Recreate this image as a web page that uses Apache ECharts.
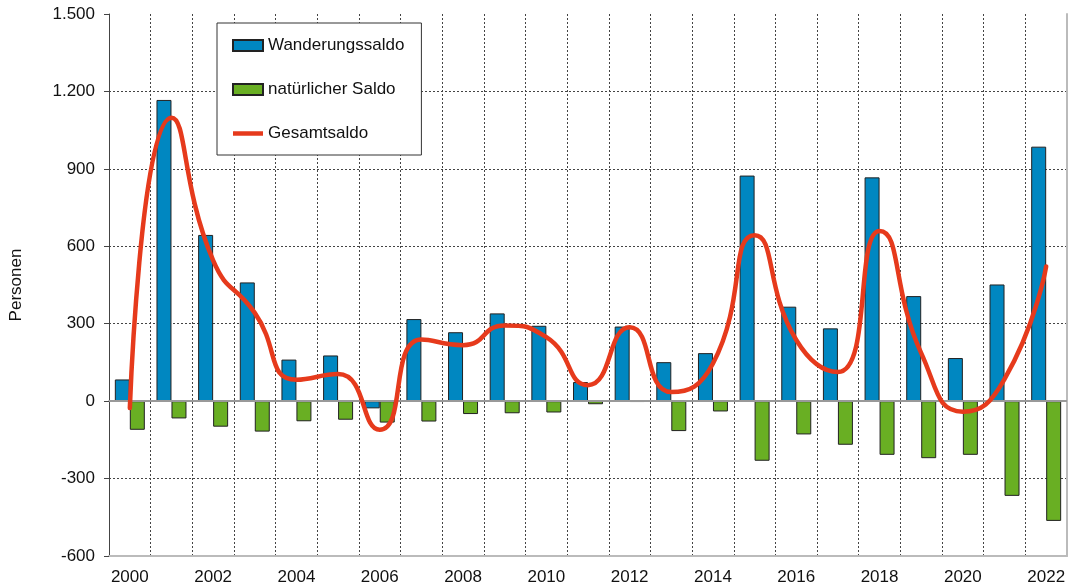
<!DOCTYPE html>
<html>
<head>
<meta charset="utf-8">
<script src="https://cdn.jsdelivr.net/npm/echarts@6/dist/echarts.min.js"></script>
<style>
    html, body { margin: 0; padding: 0; background: #fff; }
    #chart { width: 1075px; height: 588px; }
</style>
</head>
<body>
<div id="chart"></div>
<script>
    // Jahre und Werte
    let years = ['2000', '2001', '2002', '2003', '2004', '2005', '2006', '2007', '2008', '2009', '2010', '2011',
        '2012', '2013', '2014', '2015', '2016', '2017', '2018', '2019', '2020', '2021', '2022']
    let wanderungssaldo = [84, 1167, 644, 460, 161, 177, -28, 318, 267, 340, 292, 74,
        289, 151, 186, 874, 366, 282, 867, 407, 167, 452, 986]
    let natuerlicherSaldo = [-111, -67, -99, -118, -78, -72, -83, -79, -50, -47, -44, -12,
        -3, -116, -40, -231, -129, -169, -208, -221, -208, -367, -464]
    let gesamtsaldo = [-27, 1098, 545, 342, 83, 105, -111, 239, 217, 293, 248, 62,
        286, 35, 146, 643, 237, 113, 659, 186, -41, 85, 522]

    let font = 'Liberation Sans, Arial, sans-serif'

    function fmt(v) {
        return String(v).replace(/\B(?=(\d{3})+(?!\d))/g, '.')
    }

    let myChart = echarts.init(document.getElementById('chart'))
    myChart.setOption({
        animation: false,
        textStyle: {fontFamily: font},
        grid: {
            left: 108,
            right: 8,
            top: 14,
            bottom: 32
        },
        legend: {
            orient: 'vertical',
            left: 217,
            top: 23,
            itemWidth: 30,
            itemHeight: 11,
            itemGap: 27,
            padding: [14, 17, 13, 15],
            backgroundColor: '#fff',
            borderColor: '#333',
            borderWidth: 1,
            textStyle: {fontSize: 17, color: '#111', fontFamily: font},
            data: [
                {name: 'Wanderungssaldo', icon: 'rect'},
                {name: 'natürlicher Saldo', icon: 'rect'},
                {name: 'Gesamtsaldo', icon: 'path://M0,0L30,0L30,4.5L0,4.5Z'}
            ]
        },
        xAxis: [
            {
                type: 'category',
                data: years,
                boundaryGap: true,
                axisLine: {onZero: false, lineStyle: {color: '#bbb', width: 2}},
                axisTick: {show: false},
                axisLabel: {
                    interval: 1,
                    margin: 13,
                    fontSize: 17,
                    color: '#111',
                    fontFamily: font
                },
                splitLine: {
                    show: true,
                    interval: 0,
                    lineStyle: {color: '#444', type: [2, 2], width: 1}
                }
            },
            {
                type: 'category',
                position: 'top',
                data: years,
                axisLine: {lineStyle: {color: '#bbb', width: 2}},
                axisTick: {show: false},
                axisLabel: {show: false},
                splitLine: {show: false}
            }
        ],
        yAxis: [
            {
                type: 'value',
                min: -600,
                max: 1500,
                interval: 300,
                name: 'Personen',
                nameLocation: 'middle',
                nameGap: 84,
                nameTextStyle: {fontSize: 17, color: '#111', fontFamily: font},
                axisLine: {show: true, lineStyle: {color: '#444'}},
                axisTick: {show: true, length: 5, lineStyle: {color: '#444'}},
                axisLabel: {
                    margin: 14,
                    fontSize: 17,
                    color: '#111',
                    fontFamily: font,
                    formatter: fmt
                },
                splitLine: {
                    show: true,
                    lineStyle: {
                        color: ['rgba(0,0,0,0)', '#444', 'rgba(0,0,0,0)', '#444', '#444', '#444', '#444', 'rgba(0,0,0,0)'],
                        type: [2, 2],
                        width: 1
                    }
                }
            },
            {
                type: 'value',
                position: 'right',
                min: -600,
                max: 1500,
                interval: 300,
                axisLine: {show: true, lineStyle: {color: '#bbb', width: 2}},
                axisTick: {show: false},
                axisLabel: {show: false},
                splitLine: {show: false}
            }
        ],
        series: [
            {
                name: 'Wanderungssaldo',
                type: 'bar',
                data: wanderungssaldo,
                barGap: '0%',
                barCategoryGap: '28%',
                itemStyle: {color: '#0087C1', borderColor: '#222', borderWidth: 1},
                markLine: {
                    silent: true,
                    symbol: 'none',
                    label: {show: false},
                    lineStyle: {color: '#999', type: 'solid', width: 2},
                    data: [{yAxis: 0}]
                },
                z: 2
            },
            {
                name: 'natürlicher Saldo',
                type: 'bar',
                data: natuerlicherSaldo,
                itemStyle: {color: '#69AF23', borderColor: '#222', borderWidth: 1},
                z: 2
            },
            {
                name: 'Gesamtsaldo',
                type: 'line',
                data: gesamtsaldo,
                smooth: 0.55,
                symbol: 'none',
                lineStyle: {color: '#E63A1C', width: 4.5, cap: 'round'},
                itemStyle: {color: '#E63A1C'},
                z: 5
            }
        ]
    })
</script>
</body>
</html>
